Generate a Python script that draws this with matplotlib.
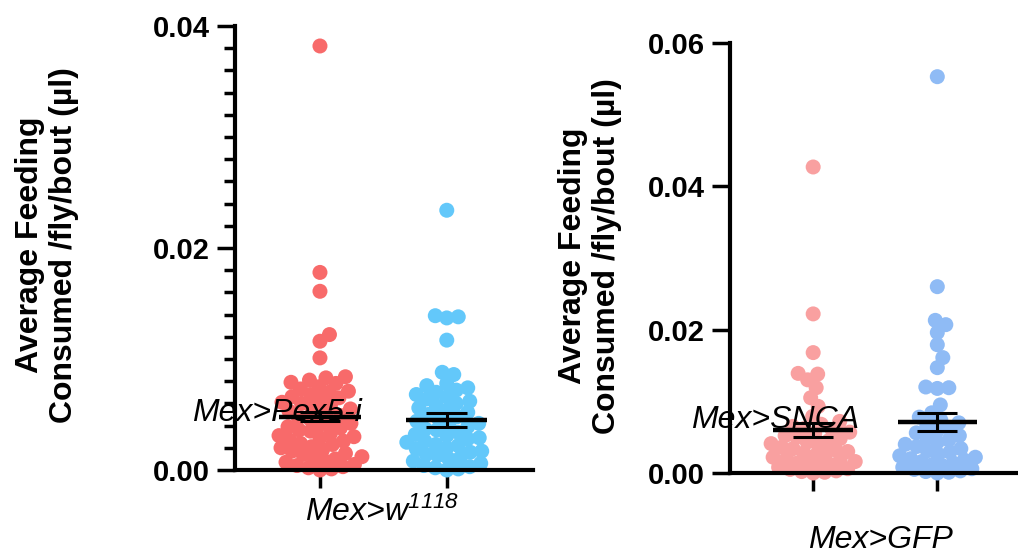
import matplotlib
matplotlib.use("Agg")
import matplotlib.pyplot as plt
from matplotlib.ticker import MultipleLocator

plt.rcParams['font.family'] = ['Liberation Sans', 'DejaVu Sans']
plt.rcParams['mathtext.fontset'] = 'custom'
plt.rcParams['mathtext.rm'] = 'Liberation Sans:italic'
plt.rcParams['mathtext.it'] = 'Liberation Sans:italic'

# left panel: Mex>Pex5-i vs Mex>w1118
pex5_vals = [0.0382, 0.0178, 0.0161, 0.0122, 0.0116, 0.0101,
             0.0084, 0.0083, 0.0081, 0.0079, 0.0078, 0.0075, 0.0073, 0.0071, 0.0070, 0.0068,
             0.0066, 0.0065, 0.0063, 0.0061, 0.0060, 0.0058, 0.0056, 0.0055, 0.0053, 0.0051,
             0.0049, 0.0047, 0.0046, 0.0044, 0.0042, 0.0041, 0.0039, 0.0038, 0.0036, 0.0035,
             0.0033, 0.0031, 0.0030, 0.0029, 0.0027, 0.0026, 0.0024, 0.0023, 0.0021, 0.0020,
             0.0018, 0.0017, 0.0015, 0.0014, 0.0012, 0.0011, 0.0010, 0.0008, 0.0007, 0.0005,
             0.0004, 0.0003, 0.0002, 0.0001, 0.0000]
w1118_vals = [0.0234, 0.0139, 0.0138, 0.0137, 0.0117, 0.0088, 0.0086,
              0.0078, 0.0076, 0.0074, 0.0072, 0.0070, 0.0068, 0.0066, 0.0064, 0.0062, 0.0060,
              0.0058, 0.0056, 0.0054, 0.0052, 0.0050, 0.0048, 0.0046, 0.0044, 0.0042, 0.0041,
              0.0039, 0.0037, 0.0036, 0.0034, 0.0032, 0.0031, 0.0029, 0.0028, 0.0026, 0.0025,
              0.0023, 0.0022, 0.0020, 0.0019, 0.0017, 0.0016, 0.0014, 0.0013, 0.0011, 0.0010,
              0.0008, 0.0006, 0.0004, 0.0003, 0.0002, 0.0001, 0.0000]
left_means = [0.0048, 0.0045]
left_sems = [0.0004, 0.0006]

# right panel: Mex>SNCA vs Mex>GFP
snca_vals = [0.0427, 0.0222, 0.0168, 0.0139, 0.0138, 0.0130, 0.0119, 0.0105, 0.0093, 0.0079,
             0.0072, 0.0068, 0.0065, 0.0062, 0.0060, 0.0057, 0.0055, 0.0052, 0.0050, 0.0048,
             0.0045, 0.0043, 0.0041, 0.0039, 0.0036, 0.0034, 0.0032, 0.0030, 0.0028, 0.0026,
             0.0024, 0.0022, 0.0020, 0.0018, 0.0016, 0.0014, 0.0012, 0.0011, 0.0009, 0.0008,
             0.0006, 0.0005, 0.0003, 0.0002, 0.0001, 0.0000]
gfp_vals = [0.0553, 0.0260, 0.0213, 0.0207, 0.0196, 0.0179, 0.0161, 0.0147, 0.0120, 0.0119,
            0.0118, 0.0095, 0.0084,
            0.0078, 0.0074, 0.0070, 0.0066, 0.0062, 0.0059, 0.0056, 0.0052, 0.0049, 0.0046,
            0.0043, 0.0040, 0.0037, 0.0034, 0.0031, 0.0029, 0.0026, 0.0024, 0.0022, 0.0020,
            0.0018, 0.0016, 0.0014, 0.0012, 0.0010, 0.0008, 0.0006, 0.0005, 0.0003, 0.0002,
            0.0001, 0.0000]
right_means = [0.0060, 0.0071]
right_sems = [0.00095, 0.0013]

W, H = 1018, 558
DOT = 15.0  # dot diameter in px
MAXW = 42.0  # half width of a swarm in px


def swarm(vals, ypx, xpx, d=DOT, k=0.75):
    # greedy beeswarm in pixel space, overlap allowed, width capped
    order = sorted(range(len(vals)), key=lambda i: vals[i])
    placed = []
    offs = [0.0] * len(vals)
    lim = (d * k) ** 2
    grid = [0.0]
    for j in range(1, int(MAXW * 2) + 1):
        grid += [j * 0.5, -j * 0.5]
    for i in order:
        y = vals[i] * ypx
        near = [(px, py) for px, py in placed if abs(py - y) < d]
        best, best_d = 0.0, -1.0
        for c in grid:
            dmin = min([(c - px) ** 2 + (y - py) ** 2 for px, py in near] or [1e9])
            if dmin >= lim:
                best = c
                break
            if dmin > best_d:
                best, best_d = c, dmin
        placed.append((best, y))
        offs[i] = best / xpx
    return offs


def panel(rect, groups, colors, means, sems, ymax, ypx, xpx, xlim, minor):
    ax = fig.add_axes(rect)
    for k, (vals, col) in enumerate(zip(groups, colors)):
        offs = swarm(vals, ypx, xpx)
        ax.scatter([k + o for o in offs], vals, s=(DOT * 0.72) ** 2, color=col,
                   edgecolors='none', zorder=2, clip_on=False)
        m, s = means[k], sems[k]
        ax.hlines(m, k - 0.32, k + 0.32, color='black', lw=3.2, zorder=4)
        ax.hlines([m - s, m + s], k - 0.16, k + 0.16, color='black', lw=2.2, zorder=4)
        ax.vlines(k, m - s, m + s, color='black', lw=2.2, zorder=4)
    ax.set_xlim(*xlim)
    ax.set_ylim(0, ymax)
    ax.set_xticks([0, 1])
    ax.set_xticklabels([])
    ax.yaxis.set_major_locator(MultipleLocator(0.02))
    ax.yaxis.set_major_formatter(plt.FuncFormatter(lambda v, p: f"{v:.2f}"))
    if minor:
        ax.yaxis.set_minor_locator(MultipleLocator(0.002))
        ax.tick_params(axis='y', which='minor', length=8, width=2.5)
    for sp in ('top', 'right'):
        ax.spines[sp].set_visible(False)
    for sp in ('left', 'bottom'):
        ax.spines[sp].set_linewidth(3)
    ax.tick_params(axis='y', which='major', length=13, width=2.5, labelsize=21, pad=5)
    ax.tick_params(axis='x', length=13, width=2.5)
    for lab in ax.get_yticklabels():
        lab.set_fontweight('bold')
    ax.patch.set_visible(False)
    return ax


fig = plt.figure(figsize=(W / 100, H / 100), dpi=100)


def fx(px):
    return px / W


def fy(py):
    return 1 - py / H


# left axes: spine x=235, right end 533, zero y=470, top y=26
panel([fx(235), fy(470), fx(533) - fx(235), fy(26) - fy(470)],
      [pex5_vals, w1118_vals], ['#F86A6A', '#63C8FA'], left_means, left_sems,
      0.04, 444 / 0.04, 127, (-0.67, 1.68), True)
# right axes: spine x=730, zero y=473, top y=43
panel([fx(730), fy(473), fx(1018) - fx(730), fy(43) - fy(473)],
      [snca_vals, gfp_vals], ['#F9A0A0', '#8FBBF5'], right_means, right_sems,
      0.06, 430 / 0.06, 124, (-0.67, 1.65), False)

ylab = "Average Feeding\nConsumed /fly/bout (µl)"
fig.text(fx(47), fy(245), ylab, rotation=90, ha='center', va='center',
         fontsize=23, fontweight='bold', linespacing=1.15)
fig.text(fx(590), fy(256), ylab, rotation=90, ha='center', va='center',
         fontsize=23, fontweight='bold', linespacing=1.15)

fig.text(fx(277), fy(413), "Mex>Pex5-i", ha='center', va='center', fontsize=23,
         style='italic', zorder=10)
fig.text(fx(382), fy(512), r"Mex>w$^{1118}$", ha='center', va='center', fontsize=23,
         style='italic', zorder=10)
fig.text(fx(775), fy(420), "Mex>SNCA", ha='center', va='center', fontsize=23,
         style='italic', zorder=10)
fig.text(fx(880), fy(540), "Mex>GFP", ha='center', va='center', fontsize=23,
         style='italic', zorder=10)

fig.savefig("out.png", dpi=100)
